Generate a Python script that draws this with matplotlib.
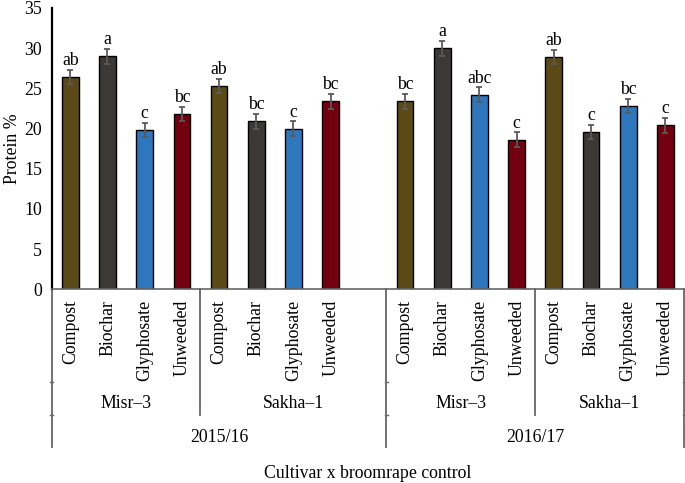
import numpy as np
import matplotlib
matplotlib.use('Agg')
from matplotlib import pyplot as plt
from matplotlib.transforms import blended_transform_factory

# data
seasons    = ['2015/16', '2016/17']
cultivars  = ['Misr\u20133', 'Sakha\u20131']
treatments = ['Compost', 'Biochar', 'Glyphosate', 'Unweeded']

protein = [26.4, 29.0, 19.8, 21.8,   # 2015/16 Misr-3
           25.3, 20.9, 20.0, 23.4,   # 2015/16 Sakha-1
           23.4, 30.0, 24.2, 18.6,   # 2016/17 Misr-3
           28.9, 19.6, 22.8, 20.4]   # 2016/17 Sakha-1
errors  = [0.9, 0.95, 0.9, 0.9,
           0.92, 0.9, 0.9, 0.92,
           0.92, 0.95, 0.92, 0.92,
           0.92, 0.9, 0.92, 0.92]
letters = ['ab', 'a', 'c', 'bc',
           'ab', 'bc', 'c', 'bc',
           'bc', 'a', 'abc', 'c',
           'ab', 'c', 'bc', 'c']

colors = ['#5b4a16', '#3b3836', '#2f77bd', '#73000f']

plt.rcParams['font.family'] = ['Liberation Serif', 'DejaVu Serif']
fs = 12.8
W, H = 685, 483

# category slots: Excel left one empty slot after 2015/16 Sakha-1
slots = []
pos = 0
bounds = [-0.5]
cult_groups = []
year_groups = []
for si, s in enumerate(seasons):
    ystart = pos
    for ci, c in enumerate(cultivars):
        cstart = pos
        for t in treatments:
            slots.append(pos)
            pos += 1
        if si == 0 and ci == 1:
            pos += 1
        cult_groups.append((c, cstart, pos - 1))
        bounds.append(pos - 0.5)
    year_groups.append((s, ystart, pos - 1))
nslots = pos

fig = plt.figure(figsize=(W/100, H/100), dpi=100)
ax = fig.add_axes([51.7/W, 1-289.3/H, (684-51.7)/W, (289.3-8)/H])

x = np.array(slots)
bar_cols = [colors[i % 4] for i in range(len(protein))]
ax.bar(x, protein, width=0.45, color=bar_cols, edgecolor='black', lw=1.0,
       zorder=2)
ax.errorbar(x, protein, yerr=errors, fmt='none', ecolor='#5a5a5a',
            elinewidth=1.3, capsize=2.5, capthick=1.3, zorder=3)
for xi, v, e, l in zip(x, protein, errors, letters):
    ax.annotate(l, (xi, v + e), xytext=(0, 0.5), textcoords='offset points',
                ha='center', va='bottom', fontsize=fs)

ax.set_xlim(-0.5, nslots - 0.5)
ax.set_ylim(0, 35)
ax.set_yticks(np.arange(0, 36, 5))
ax.tick_params(axis='y', length=0, pad=7, labelsize=fs)
ax.set_xticks([])
for side in ['top', 'right']:
    ax.spines[side].set_visible(False)
ax.spines['left'].set_linewidth(1.6)
ax.spines['left'].set_color('black')
ax.spines['bottom'].set_linewidth(1.2)
ax.spines['bottom'].set_color('#666666')
ax.set_ylabel('Protein %', fontsize=fs, labelpad=2)

# multi-level category axis
tr = blended_transform_factory(ax.transData, fig.transFigure)
fy = lambda py: 1 - py / H
lc = '#666666'
for xi, t in zip(x, [treatments[i % 4] for i in range(len(protein))]):
    ax.text(xi, fy(300), t, rotation=90, ha='center', va='top',
            fontsize=fs, transform=tr)
for c, a, b in cult_groups:
    ax.text((a + b) / 2, fy(404), c, ha='center', va='center',
            fontsize=fs, transform=tr)
for s, a, b in year_groups:
    ax.text((a + b) / 2, fy(437), s, ha='center', va='center',
            fontsize=fs, transform=tr)

year_bounds = [-0.5, year_groups[0][2] + 0.5, nslots - 0.5]
for bx in bounds:
    bottom = 447 if bx in year_bounds else 415
    ax.plot([bx, bx], [fy(289.3), fy(bottom)], color=lc, lw=1.3,
            transform=tr, clip_on=False)
for bx in year_bounds:
    for py in [382, 415]:
        ax.plot([bx - 0.04, bx + 0.04], [fy(py), fy(py)], color=lc, lw=1.0,
                transform=tr, clip_on=False)

fig.text(0.5 * (51.7 + 684) / W, fy(473), 'Cultivar x broomrape control',
         ha='center', va='center', fontsize=fs)

plt.savefig('out.png', dpi=100)
plt.close(fig)
